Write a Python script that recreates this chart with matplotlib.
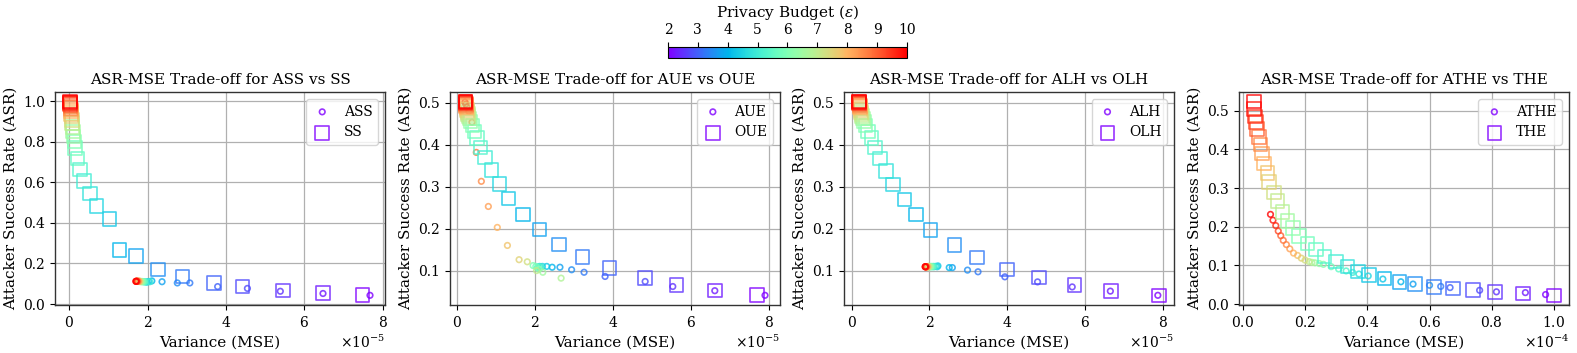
import matplotlib
matplotlib.use("Agg")
import matplotlib.pyplot as plt
import numpy as np
from matplotlib.colors import Normalize
from matplotlib.cm import ScalarMappable

plt.rcParams['font.family'] = 'DejaVu Serif'
plt.rcParams['mathtext.fontset'] = 'dejavuserif'

# privacy budgets
eps = [2.0, 2.25, 2.5, 2.75, 3.0, 3.25, 3.5, 3.75, 4.0, 4.25, 4.5, 4.75, 5.0, 5.25, 5.5,
       5.75, 6.0, 6.25, 6.5, 6.75, 7.0, 7.25, 7.5, 7.75, 8.0, 8.25, 8.5, 8.75, 9.0, 9.25,
       9.5, 9.75, 10.0]

# SS / ASS  (MSE in 1e-5)
ss_mse = [7.49, 6.48, 5.46, 4.42, 3.70, 2.89, 2.27, 1.71, 1.28, 1.03, 0.70, 0.53, 0.38, 0.27, 0.21,
          0.15, 0.13, 0.115, 0.10, 0.088, 0.077, 0.067, 0.059, 0.052, 0.045, 0.040, 0.035, 0.031,
          0.028, 0.025, 0.023, 0.021, 0.020]
ss_asr = [0.045, 0.055, 0.066, 0.086, 0.103, 0.136, 0.171, 0.237, 0.265, 0.420, 0.484, 0.544, 0.605,
          0.663, 0.716, 0.770, 0.800, 0.826, 0.850, 0.872, 0.891, 0.908, 0.923, 0.936, 0.948, 0.958,
          0.966, 0.974, 0.980, 0.986, 0.990, 0.994, 0.997]
ass_mse = [7.68, 6.48, 5.39, 4.55, 3.79, 3.08, 2.76, 2.37, 2.11, 2.03, 1.99, 1.96, 2.06, 1.93, 1.91,
           1.89, 1.87, 1.85, 1.84, 1.82, 1.81, 1.80, 1.79, 1.78, 1.77, 1.76, 1.75, 1.74, 1.73, 1.72,
           1.72, 1.71, 1.70]
ass_asr = [0.043, 0.052, 0.063, 0.077, 0.086, 0.104, 0.104, 0.110, 0.114, 0.111, 0.108, 0.109, 0.110,
           0.109, 0.110, 0.110, 0.111, 0.110, 0.111, 0.111, 0.112, 0.111, 0.112, 0.112, 0.112, 0.112,
           0.112, 0.112, 0.112, 0.112, 0.112, 0.112, 0.112]

# OUE / AUE
oue_mse = [7.70, 6.62, 5.63, 4.82, 3.91, 3.22, 2.62, 2.12, 1.69, 1.32, 1.09, 0.88, 0.72, 0.60, 0.51,
           0.45, 0.39, 0.34, 0.31, 0.29, 0.275, 0.262, 0.252, 0.243, 0.236, 0.230, 0.225, 0.221,
           0.218, 0.215, 0.213, 0.211, 0.210]
oue_asr = [0.042, 0.052, 0.066, 0.082, 0.106, 0.132, 0.162, 0.198, 0.234, 0.272, 0.306, 0.340, 0.370,
           0.394, 0.416, 0.432, 0.446, 0.456, 0.463, 0.469, 0.474, 0.479, 0.483, 0.487, 0.490, 0.493,
           0.495, 0.497, 0.499, 0.500, 0.501, 0.502, 0.503]
aue_mse = [7.91, 6.62, 5.54, 4.83, 3.80, 3.26, 2.94, 2.64, 2.44, 2.30, 2.19, 2.12, 2.08, 2.15, 2.06,
           2.02, 1.95, 2.10, 2.20, 2.67, 2.04, 1.80, 1.59, 1.29, 1.03, 0.80, 0.62, 0.49, 0.38, 0.30,
           0.25, 0.22, 0.20]
aue_asr = [0.041, 0.052, 0.062, 0.074, 0.086, 0.096, 0.102, 0.108, 0.108, 0.110, 0.110, 0.110, 0.109,
           0.108, 0.107, 0.110, 0.112, 0.103, 0.096, 0.082, 0.100, 0.121, 0.126, 0.160, 0.203, 0.253,
           0.313, 0.382, 0.454, 0.480, 0.490, 0.497, 0.502]

# OLH / ALH
olh_mse = [7.90, 6.67, 5.73, 4.81, 3.99, 3.22, 2.64, 2.03, 1.65, 1.36, 1.06, 0.89, 0.73, 0.60, 0.51,
           0.43, 0.36, 0.32, 0.29, 0.27, 0.255, 0.243, 0.233, 0.225, 0.218, 0.212, 0.207, 0.203,
           0.200, 0.198, 0.196, 0.194, 0.192]
olh_asr = [0.042, 0.052, 0.066, 0.084, 0.104, 0.132, 0.162, 0.198, 0.234, 0.270, 0.306, 0.338, 0.368,
           0.394, 0.416, 0.432, 0.446, 0.456, 0.463, 0.469, 0.474, 0.479, 0.483, 0.487, 0.490, 0.493,
           0.495, 0.497, 0.499, 0.500, 0.501, 0.502, 0.503]
alh_mse = [7.87, 6.65, 5.67, 4.78, 3.94, 3.25, 2.98, 2.59, 2.51, 2.22, 2.20, 2.16, 2.12, 2.10, 2.08,
           2.05, 2.04, 2.02, 2.00, 1.99, 1.98, 1.97, 1.96, 1.95, 1.94, 1.93, 1.93, 1.92, 1.91, 1.91,
           1.90, 1.90, 1.89]
alh_asr = [0.042, 0.052, 0.062, 0.074, 0.086, 0.098, 0.102, 0.108, 0.108, 0.112, 0.110, 0.111, 0.110,
           0.111, 0.110, 0.110, 0.111, 0.110, 0.110, 0.110, 0.111, 0.110, 0.110, 0.110, 0.110, 0.110,
           0.110, 0.110, 0.110, 0.110, 0.110, 0.110, 0.110]

# THE / ATHE  (MSE in 1e-4)
the_mse = [1.00, 0.90, 0.81, 0.74, 0.675, 0.615, 0.553, 0.504, 0.456, 0.405, 0.37, 0.337, 0.30, 0.262,
           0.235, 0.208, 0.181, 0.162, 0.143, 0.127, 0.111, 0.100, 0.084, 0.079, 0.068, 0.062, 0.057,
           0.052, 0.046, 0.043, 0.039, 0.036, 0.036]
the_asr = [0.023, 0.028, 0.032, 0.037, 0.041, 0.045, 0.052, 0.057, 0.067, 0.076, 0.084, 0.097, 0.110,
           0.123, 0.141, 0.157, 0.176, 0.197, 0.215, 0.238, 0.267, 0.289, 0.315, 0.339, 0.363, 0.389,
           0.412, 0.432, 0.452, 0.471, 0.485, 0.504, 0.523]
athe_mse = [0.973, 0.908, 0.815, 0.761, 0.666, 0.636, 0.60, 0.547, 0.508, 0.45, 0.403, 0.373, 0.353,
            0.332, 0.308, 0.284, 0.259, 0.246, 0.232, 0.222, 0.213, 0.200, 0.188, 0.176, 0.163, 0.151,
            0.140, 0.130, 0.122, 0.114, 0.106, 0.097, 0.089]
athe_asr = [0.025, 0.030, 0.032, 0.036, 0.043, 0.046, 0.049, 0.052, 0.058, 0.065, 0.073, 0.078, 0.082,
            0.086, 0.091, 0.097, 0.103, 0.105, 0.107, 0.108, 0.110, 0.114, 0.119, 0.126, 0.132, 0.143,
            0.154, 0.165, 0.177, 0.189, 0.203, 0.217, 0.232]

panels = [
    ("ASS", "SS", ass_mse, ass_asr, ss_mse, ss_asr, 1e-5),
    ("AUE", "OUE", aue_mse, aue_asr, oue_mse, oue_asr, 1e-5),
    ("ALH", "OLH", alh_mse, alh_asr, olh_mse, olh_asr, 1e-5),
    ("ATHE", "THE", athe_mse, athe_asr, the_mse, the_asr, 1e-4),
]

cmap = plt.get_cmap('rainbow')
norm = Normalize(vmin=2, vmax=10)
cols = cmap(norm(np.array(eps)))

fig = plt.figure(figsize=(15.77, 3.53), dpi=100)
lefts = [55, 450, 844, 1239]
for left, (a_name, b_name, a_x, a_y, b_x, b_y, scale) in zip(lefts, panels):
    ax = fig.add_axes([left / 1577, 48 / 353, 330 / 1577, 213 / 353])
    ax.scatter(np.array(a_x) * scale, a_y, s=16, facecolors='none', edgecolors=cols,
               linewidths=1.2, alpha=0.8, label=a_name, zorder=3)
    ax.scatter(np.array(b_x) * scale, b_y, s=95, marker='s', facecolors='none', edgecolors=cols,
               linewidths=1.2, alpha=0.8, label=b_name, zorder=3)
    ax.set_title(f"ASR-MSE Trade-off for {a_name} vs {b_name}", fontsize=11)
    ax.set_xlabel("Variance (MSE)", fontsize=11)
    ax.set_ylabel("Attacker Success Rate (ASR)", fontsize=11)
    ax.ticklabel_format(style='sci', axis='x', scilimits=(0, 0), useMathText=True)
    ax.tick_params(labelsize=10)
    ax.xaxis.get_offset_text().set_fontsize(10)
    for sp in ax.spines.values():
        sp.set_color('#333333')
        sp.set_linewidth(1.0)
    ax.grid(True, color='#b0b0b0', linewidth=0.9)
    ax.set_axisbelow(True)
    ax.legend(loc='upper right', fontsize=10, handlelength=1.5)

cax = fig.add_axes([668 / 1577, (353 - 58) / 353, 239 / 1577, 11.5 / 353])
sm = ScalarMappable(norm=norm, cmap=cmap)
cb = fig.colorbar(sm, cax=cax, orientation='horizontal')
cax.xaxis.set_ticks_position('top')
cax.xaxis.set_label_position('top')
cb.set_label(r'Privacy Budget ($\varepsilon$)', fontsize=11)
cb.set_ticks([2, 3, 4, 5, 6, 7, 8, 9, 10])
cax.tick_params(labelsize=10)

fig.savefig('out.png', dpi=100)
